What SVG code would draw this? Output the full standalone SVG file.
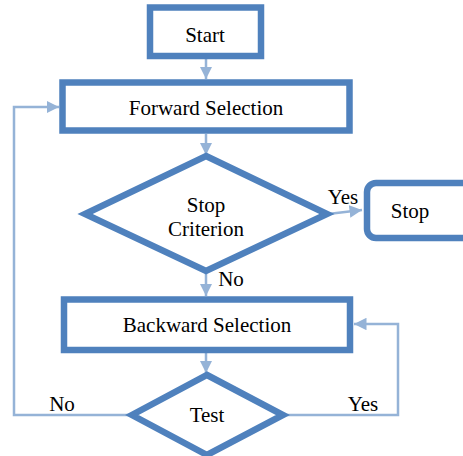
<svg xmlns="http://www.w3.org/2000/svg" width="463" height="456" viewBox="0 0 463 456">
<style>
.node{fill:#fff;stroke:#4f81bd;stroke-width:6.5}
.conn{fill:none;stroke:#95b3d7;stroke-width:2.5}
.t{font-family:'Liberation Serif','Times New Roman',serif;font-size:21px;fill:#000;text-anchor:middle}
</style>
<defs>
<marker id="ah" viewBox="0 0 10 10" refX="10" refY="5" markerWidth="5" markerHeight="5" orient="auto" markerUnits="strokeWidth">
<path d="M0,0 L10,5 L0,10 z" fill="#95b3d7"/>
</marker>
</defs>
<g id="connectors">
<line class="conn" x1="206" y1="59" x2="206" y2="79" marker-end="url(#ah)"/>
<line class="conn" x1="206" y1="134" x2="206" y2="155" marker-end="url(#ah)"/>
<line class="conn" x1="328" y1="214" x2="362" y2="210" marker-end="url(#ah)"/>
<line class="conn" x1="206" y1="272" x2="206" y2="296" marker-end="url(#ah)"/>
<line class="conn" x1="206" y1="353" x2="206" y2="373" marker-end="url(#ah)"/>
<polyline class="conn" points="131,415 14,415 14,107 59,107" marker-end="url(#ah)"/>
<polyline class="conn" points="284,415 398,415 398,324 354,324" marker-end="url(#ah)"/>
<text class="t" x="231" y="286">No</text>
<text class="t" x="343" y="204">Yes</text>
<text class="t" x="62" y="411">No</text>
<text class="t" x="363" y="411">Yes</text>
</g>
<g id="start">
<rect class="node" x="150" y="7.5" width="111" height="48.5"/>
<text class="t" x="205" y="42">Start</text>
</g>
<g id="forward">
<rect class="node" x="62.5" y="82.5" width="287" height="48"/>
<text class="t" x="206" y="115">Forward Selection</text>
</g>
<g id="criterion">
<polygon class="node" points="206,156 327,214 206,271 85,214"/>
<text class="t" x="206" y="212">Stop</text>
<text class="t" x="206" y="236">Criterion</text>
</g>
<g id="stop">
<rect class="node" x="367" y="183" width="110" height="55" rx="9"/>
<text class="t" x="410" y="218">Stop</text>
</g>
<g id="backward">
<rect class="node" x="64" y="299.5" width="286" height="50.5"/>
<text class="t" x="207" y="332">Backward Selection</text>
</g>
<g id="test">
<polygon class="node" points="207,375 283,415 207,455 132,415"/>
<text class="t" x="207" y="422">Test</text>
</g>
</svg>
